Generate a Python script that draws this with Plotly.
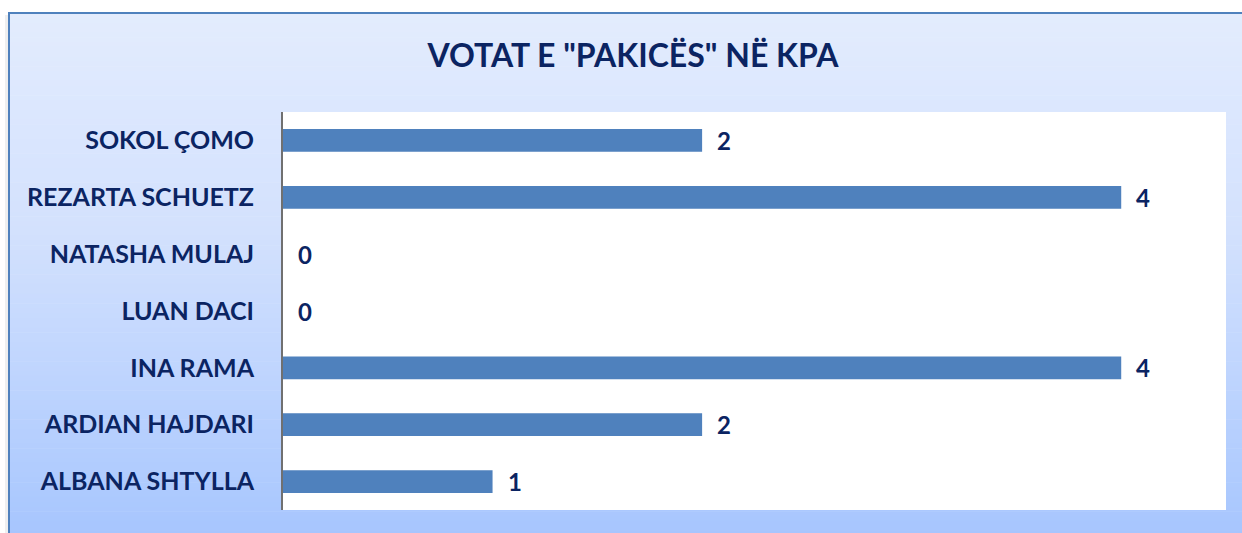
import plotly.graph_objects as go

# ---- data (listed bottom to top) ----
candidates = ["ALBANA SHTYLLA", "ARDIAN HAJDARI", "INA RAMA", "LUAN DACI",
              "NATASHA MULAJ", "REZARTA SCHUETZ", "SOKOL ÇOMO"]
votes = [1, 2, 4, 0, 0, 4, 2]
title_text = 'VOTAT E "PAKICËS" NË KPA'

W, H = 1242, 533
L, R, T, B = 283, 16, 112, 23
pw, ph = W - L - R, H - T - B

def px_x(p):
    return (p - L) / pw

def px_y(p):
    return (H - B - p) / ph

NAVY = "#0B2462"
BAR = "#4F81BD"
FONT = "Lato"
WEIGHT = 700

fig = go.Figure()
fig.add_trace(go.Bar(
    x=votes, y=candidates, orientation="h",
    marker=dict(color=BAR, line=dict(width=0)),
    width=0.4, hoverinfo="x+y",
))

# ---- background gradient bands ----
stops = [(0.0, (227, 236, 253)), (0.22, (218, 230, 254)), (0.41, (211, 225, 253)),
         (0.65, (193, 214, 254)), (0.88, (175, 203, 254)), (1.0, (165, 196, 254))]

def col(f):
    for (f0, c0), (f1, c1) in zip(stops[:-1], stops[1:]):
        if f <= f1:
            t = (f - f0) / (f1 - f0)
            return "rgb(%d,%d,%d)" % tuple(round(a + (b - a) * t) for a, b in zip(c0, c1))
    return "rgb(%d,%d,%d)" % stops[-1][1]

top_px, bot_px, left_px, right_px = 13, 545, 9, 1257
n = 110
shapes = []
# soft shadow
shapes.append(dict(type="rect", xref="paper", yref="paper",
                   x0=px_x(left_px - 4), x1=px_x(left_px), y0=px_y(bot_px), y1=px_y(top_px + 2),
                   fillcolor="rgba(120,120,120,0.12)", line=dict(width=0), layer="below"))
for i in range(n):
    a = top_px + (bot_px - top_px) * i / n
    b = top_px + (bot_px - top_px) * (i + 1) / n
    shapes.append(dict(type="rect", xref="paper", yref="paper",
                       x0=px_x(left_px), x1=px_x(right_px + 20), y0=px_y(b + 0.6), y1=px_y(a),
                       fillcolor=col((i + 0.5) / n), line=dict(width=0), layer="below"))
# frame border
shapes.append(dict(type="rect", xref="paper", yref="paper",
                   x0=px_x(left_px), x1=px_x(right_px + 20), y0=px_y(bot_px + 10), y1=px_y(top_px),
                   fillcolor="rgba(0,0,0,0)", line=dict(color="#4F81BD", width=2), layer="below"))
# white plot area
shapes.append(dict(type="rect", xref="paper", yref="paper", x0=0, x1=1, y0=0, y1=1,
                   fillcolor="white", line=dict(width=0), layer="below"))

annotations = []
for c, v in zip(candidates, votes):
    annotations.append(dict(x=v, y=c, xref="x", yref="y", text=str(v), showarrow=False,
                            xanchor="left", yanchor="middle", xshift=13,
                            font=dict(family=FONT, size=24, color=NAVY, weight=WEIGHT)))

fig.update_layout(
    width=W, height=H,
    margin=dict(l=L, r=R, t=T, b=B, pad=0),
    paper_bgcolor="white", plot_bgcolor="rgba(0,0,0,0)",
    showlegend=False, bargap=0.6,
    title=dict(text=title_text, x=633 / W, xanchor="center", y=1 - 56 / H, yanchor="middle",
               font=dict(family=FONT, size=32, color=NAVY, weight=WEIGHT)),
    shapes=shapes, annotations=annotations,
    xaxis=dict(range=[0, 4.5], showgrid=False, zeroline=False, showticklabels=False,
               showline=False, fixedrange=True),
    yaxis=dict(categoryorder="array", categoryarray=candidates, showgrid=False,
               showline=True, linecolor="#707070", linewidth=2, ticks="",
               ticklabelstandoff=22,
               tickfont=dict(family=FONT, size=25, color=NAVY, weight=WEIGHT),
               fixedrange=True),
)

fig.write_html("out.html", config={"displayModeBar": False},
               post_script="document.body.style.margin='0';document.body.style.overflow='hidden';")
